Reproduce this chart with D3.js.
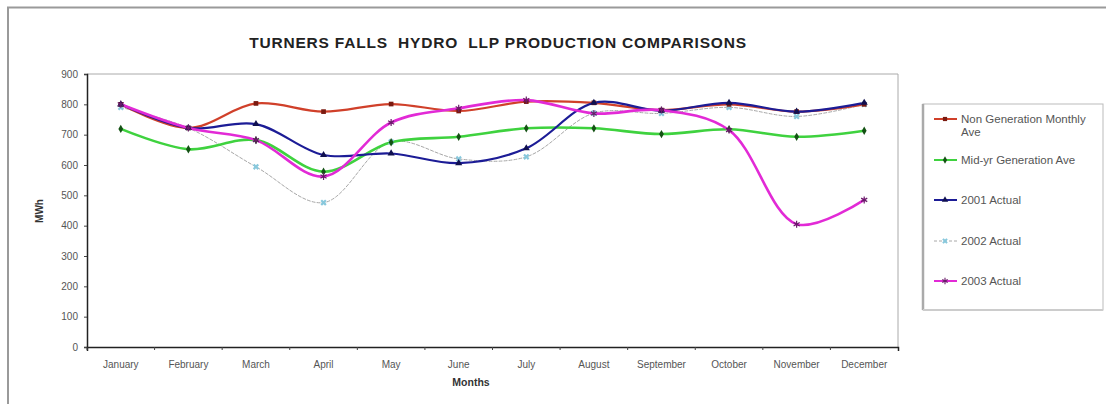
<!DOCTYPE html>
<html><head><meta charset="utf-8">
<script src="https://cdn.jsdelivr.net/npm/d3@7/dist/d3.min.js"></script>
<style>body{margin:0;background:#fff}svg{display:block;font-family:"Liberation Sans",Arial,sans-serif}</style>
</head><body><svg id="c" width="1106" height="404"></svg>
<script>
const months = ["January","February","March","April","May","June","July","August","September","October","November","December"];
const yTicks = [0,100,200,300,400,500,600,700,800,900];
const nonGenAve = [800,722,803,776,801,778,809,805,781,800,776,800];
const midYrAve  = [719,652,682,578,675,693,721,721,702,718,693,713];
const actual2001 = [800,722,735,633,638,606,655,805,779,805,776,805];
const actual2002 = [790,722,594,476,676,620,627,771,770,790,760,800];
const actual2003 = [800,722,682,562,740,787,814,770,781,715,405,485];
const seriesNames = ["Non Generation Monthly Ave","Mid-yr Generation Ave","2001 Actual","2002 Actual","2003 Actual"];

const series = [
  {name:seriesNames[0], values:nonGenAve, color:"#d0402a", width:2.2, dash:null, marker:d3.symbolSquare, mcolor:"#7a1a10", msize:22},
  {name:seriesNames[1], values:midYrAve, color:"#3fd23f", width:2.6, dash:null, marker:d3.symbolDiamond, mcolor:"#145214", msize:20},
  {name:seriesNames[2], values:actual2001, color:"#1c1c96", width:2.2, dash:null, marker:d3.symbolTriangle, mcolor:"#101050", msize:22},
  {name:seriesNames[3], values:actual2002, color:"#a8a8a8", width:1, dash:"3,2", marker:d3.symbolCross, mcolor:"#88c8dc", msize:24},
  {name:seriesNames[4], values:actual2003, color:"#e22ad6", width:2.6, dash:null, marker:d3.symbolAsterisk, mcolor:"#6a1a6a", msize:34}
];

const svg = d3.select("#c");
svg.append("rect").attr("x",8).attr("y",7.5).attr("width",1110).attr("height",410)
  .attr("fill","none").attr("stroke","#9a9a9a").attr("stroke-width",2);

const L=87, R=898, T=74, B=347;
const x = d3.scaleBand().domain(months).range([L,R]);
const y = d3.scaleLinear().domain([0,900]).range([B,T]);

svg.append("line").attr("x1",L).attr("x2",R).attr("y1",T).attr("y2",T).attr("stroke","#aaa").attr("stroke-width",1);
svg.append("line").attr("x1",R).attr("x2",R).attr("y1",T).attr("y2",B).attr("stroke","#aaa").attr("stroke-width",1);

const yAxis = svg.append("g").attr("transform",`translate(${L},0)`)
  .call(d3.axisLeft(y).tickValues(yTicks).tickSize(3).tickPadding(6));
const xAxis = svg.append("g").attr("transform",`translate(0,${B})`)
  .call(d3.axisBottom(x).tickSizeOuter(4).tickSizeInner(0).tickPadding(14));
[yAxis,xAxis].forEach(g=>{
  g.selectAll(".domain").attr("stroke","#222").attr("stroke-width",1.5);
  g.selectAll("text").attr("fill","#555").style("font-size","10px");
  g.selectAll(".tick line").attr("stroke","#444");
});
svg.append("g").selectAll("line").data(months).join("line")
  .attr("x1",d=>x(d)).attr("x2",d=>x(d)).attr("y1",B).attr("y2",B+3).attr("stroke","#444");

const line = d3.line().x((d,i)=>x(months[i])+x.bandwidth()/2).y(d=>y(d)).curve(d3.curveCatmullRom.alpha(0.5));
const order = [3,1,0,2,4];
order.forEach(k=>{
  const s = series[k];
  svg.append("path").datum(s.values).attr("d",line).attr("fill","none")
    .attr("stroke",s.color).attr("stroke-width",s.width).attr("stroke-dasharray",s.dash)
    .attr("stroke-linejoin","round").attr("stroke-linecap","round");
});
order.forEach(k=>{
  const s = series[k];
  svg.append("g").selectAll("path").data(s.values).join("path")
    .attr("transform",(d,i)=>`translate(${x(months[i])+x.bandwidth()/2},${y(d)})${s.marker===d3.symbolCross?" rotate(45)":""}`)
    .attr("d",d3.symbol(s.marker,s.msize))
    .attr("fill",s.marker===d3.symbolAsterisk?"none":s.mcolor)
    .attr("stroke",s.marker===d3.symbolAsterisk?s.mcolor:"none").attr("stroke-width",1.2);
});

svg.append("text").attr("x",498).attr("y",48).attr("text-anchor","middle")
  .style("font-size","15.5px").style("font-weight","bold").style("white-space","pre").style("letter-spacing","0.8px").attr("fill","#222")
  .text("TURNERS FALLS  HYDRO  LLP PRODUCTION COMPARISONS");
svg.append("text").attr("transform","translate(43,211) rotate(-90)").attr("text-anchor","middle")
  .style("font-size","10px").style("font-weight","bold").attr("fill","#333").text("MWh");
svg.append("text").attr("x",471).attr("y",386).attr("text-anchor","middle")
  .style("font-size","10.5px").style("font-weight","bold").attr("fill","#333").text("Months");

const lg = svg.append("g");
lg.append("rect").attr("x",923).attr("y",104).attr("width",180).attr("height",206)
  .attr("fill","#fff").attr("stroke","#bbb").attr("stroke-width",1);
lg.append("line").attr("x1",923).attr("x2",923).attr("y1",104).attr("y2",310).attr("stroke","#aaa").attr("stroke-width",2.5);
lg.append("line").attr("x1",923).attr("x2",1103).attr("y1",310).attr("y2",310).attr("stroke","#ccc").attr("stroke-width",2);
const ly = [119,160,200,241,281];
series.forEach((s,i)=>{
  const g = lg.append("g").attr("transform",`translate(0,${ly[i]})`);
  g.append("line").attr("x1",934).attr("x2",957).attr("y1",0).attr("y2",0)
    .attr("stroke",s.color).attr("stroke-width",Math.min(s.width,2)).attr("stroke-dasharray",s.dash);
  g.append("path").attr("transform",`translate(945,0)${s.marker===d3.symbolCross?" rotate(45)":""}`)
    .attr("d",d3.symbol(s.marker,s.msize*0.8))
    .attr("fill",s.marker===d3.symbolAsterisk?"none":s.mcolor)
    .attr("stroke",s.marker===d3.symbolAsterisk?s.mcolor:"none").attr("stroke-width",1.1);
  const t = g.append("text").attr("x",961).attr("y",4).style("font-size","11.5px").attr("fill","#555");
  if(i===0){
    t.append("tspan").attr("x",961).text("Non Generation Monthly");
    t.append("tspan").attr("x",961).attr("dy",13).text("Ave");
  } else t.text(s.name);
});
</script></body></html>
